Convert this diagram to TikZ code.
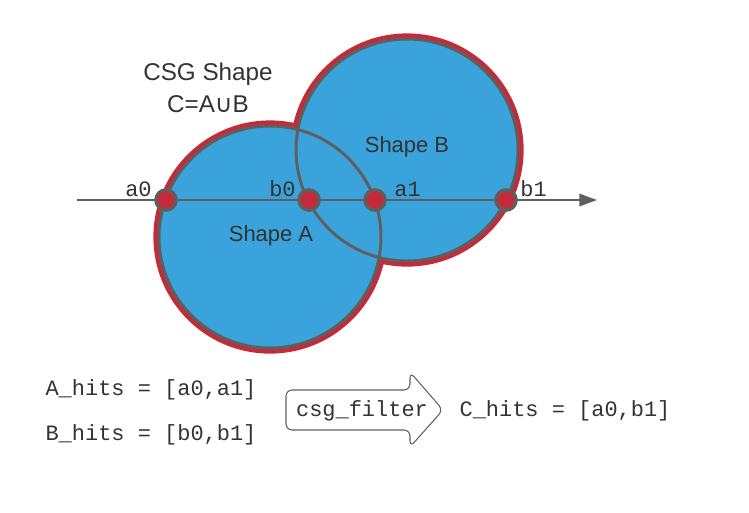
\documentclass[tikz,border=0pt]{standalone}
\usepackage{fontspec}
\setmainfont{Liberation Sans}
\setmonofont{Liberation Mono}
\newfontfamily\symfont{DejaVu Sans}
\usetikzlibrary{arrows.meta, positioning, calc}
\definecolor{shapeblue}{HTML}{3AA3DC}
\definecolor{hitred}{HTML}{C42B3A}
\definecolor{edgegray}{HTML}{5F5F5F}
\definecolor{textgray}{HTML}{333333}
\tikzset{
  unionedge/.style={draw=hitred, line width=6.4pt},
  shapeedge/.style={draw=edgegray, line width=1.7pt},
  hitpt/.style={
    circle, fill=hitred, draw=edgegray, line width=1.8pt,
    minimum size=0.41cm, inner sep=0pt
  },
  hitlbl/.style={font=\fontsize{12.5}{14}\ttfamily, text=textgray, inner sep=0pt},
  codetxt/.style={font=\fontsize{12.5}{14}\ttfamily, text=textgray, inner sep=0pt},
  sanstxt/.style={font=\fontsize{12.5}{15}\selectfont, text=textgray, inner sep=0pt},
  ray/.style={draw=edgegray, line width=1.1pt, -{Triangle[length=10pt, width=7pt]}},
  filterarrow/.style={draw=edgegray, line width=0.6pt, rounded corners=3.5pt}
}

\begin{document}
\begin{tikzpicture}[x=0.02cm, y=-0.02cm]
  \useasboundingbox (0,0) rectangle (749,512);

  % Shapes A und B
  \coordinate (cA) at (270,237);
  \coordinate (cB) at (407,150);
  \draw[unionedge] (cA) circle[radius=111] (cB) circle[radius=111];
  \fill[shapeblue] (cA) circle[radius=111] (cB) circle[radius=111];
  \draw[shapeedge] (cA) circle[radius=111];
  \draw[shapeedge] (cB) circle[radius=111];

  \node[sanstxt] (shapeA) at (271,236) {Shape A};
  \node[sanstxt] (shapeB) at (407,147) {Shape B};

  % Titel
  \node[sanstxt, font=\fontsize{13.8}{16}\selectfont, align=center] (title) at (208,88)
    {CSG Shape\\[2pt] C=A{\symfont ∪}B};

  % Strahl
  \coordinate (rayS) at (77,200);
  \coordinate (rayE) at (597,200);
  \draw[ray] (rayS) -- (rayE);

  % Treffer
  \node[hitpt] (a0) at (166,200) {};
  \node[hitpt] (b0) at (309,200) {};
  \node[hitpt] (a1) at (375,200) {};
  \node[hitpt] (b1) at (506,200) {};

  \node[hitlbl, anchor=base east] (lblA0) at ($(a0)+(-14,-4)$) {a0};
  \node[hitlbl, anchor=base east] (lblB0) at ($(b0)+(-13,-4)$) {b0};
  \node[hitlbl, anchor=base west] (lblA1) at ($(a1)+(19,-4)$) {a1};
  \node[hitlbl, anchor=base west] (lblB1) at ($(b1)+(14,-4)$) {b1};

  % Listen
  \node[codetxt] (hitsA) at (151,390) {A\_hits = [a0,a1]};
  \node[codetxt] (hitsB) at (151,435) {B\_hits = [b0,b1]};

  % Filter
  \draw[filterarrow] (410,430) -- (286,430) -- (286,390) -- (410,390)
    -- (410,372) -- (443,410) -- (410,447) -- cycle;
  \node[codetxt] (filter) at (362,411) {csg\_filter};
  \node[codetxt] (hitsC) at (565,411) {C\_hits = [a0,b1]};
\end{tikzpicture}
\end{document}
